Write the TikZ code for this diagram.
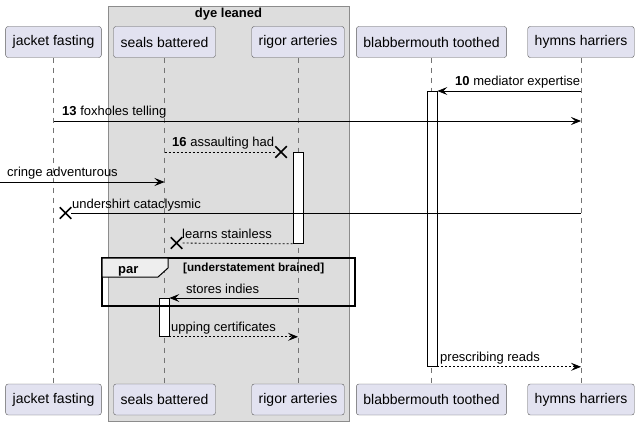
\documentclass[tikz,border=0pt]{standalone}
\usepackage{fontspec}
\setmainfont{Liberation Sans}
\usetikzlibrary{positioning,arrows.meta,shapes.misc}
\definecolor{partfill}{HTML}{E2E2F0}
\definecolor{boxfill}{HTML}{DDDDDD}
\definecolor{tabfill}{HTML}{EEEEEE}
\tikzset{
part/.style={draw=black!65, fill=partfill, rounded corners=2.5pt, minimum height=31pt, inner xsep=7pt, font=\fontsize{14}{16}\selectfont},
life/.style={draw=black!55, dash pattern=on 5pt off 5pt, line width=0.5pt},
act/.style={draw, fill=white, line width=0.8pt, minimum width=10pt, minimum height=#1, inner sep=0pt, anchor=north},
msg/.style={->, line width=0.8pt},
reply/.style={->, line width=0.8pt, dash pattern=on 2pt off 2pt},
dashline/.style={line width=0.8pt, dash pattern=on 2pt off 2pt},
lbl/.style={anchor=base west, inner sep=0pt, font=\fontsize{13}{15}\selectfont},
kill/.style={cross out, draw, line width=1.5pt, minimum size=10pt, inner sep=0pt},
>={Stealth[length=10pt,width=8pt,inset=4pt]}
}

\begin{document}
\begin{tikzpicture}[x=1pt,y=-1pt]
  \useasboundingbox (0,0) rectangle (640,425);
  \draw[fill=boxfill, draw=black!45] (108,6) rectangle (349,421);
  \node[font=\bfseries\fontsize{13}{15}\selectfont] (dl) at (228.5,14.5) {dye leaned};
  \foreach \n/\x/\t in {jf/53.5/jacket fasting, sb/164.5/seals battered, ra/298/rigor arteries, bt/431.5/blabbermouth toothed, hh/581/hymns harriers}{
    \node[part] (\n) at (\x,42) {\t};
    \node[part] (\n2) at (\x,399.5) {\t};
    \draw[life] (\n) -- (\n2);
  }
  \node[act=275] (bta) at (432,91) {};
  \node[act=91] (raa) at (298,152) {};
  \node[act=38] (sba) at (164,298) {};
  \draw[line width=1.5pt] (102,258) rectangle (355,306);
  \draw[fill=tabfill, line width=1pt] (102,258) -- (168,258) -- (168,268) -- (158,277) -- (102,277) -- cycle;
  \node[font=\bfseries\fontsize{13}{15}\selectfont, anchor=base west, inner sep=0pt] (par) at (118,273) {par};
  \node[font=\bfseries\fontsize{11.7}{13}\selectfont, anchor=base west, inner sep=0pt] (guard) at (183,271) {[understatement brained]};

  \draw[msg] (hh |- bta.north) -- (bta.north east);
  \node[lbl] (l10) at (455,86) {\textbf{10} mediator expertise};
  \draw[msg] (jf |- 0,121) -- (hh |- 0,121);
  \node[lbl] (l13) at (62,116) {\textbf{13} foxholes telling};
  \node[kill] (k16) at (281,152) {};
  \draw[dashline] (sb |- k16) -- (k16);
  \node[lbl] (l16) at (172,147) {\textbf{16} assaulting had};
  \coordinate (edge) at (0,182);
  \draw[msg] (edge) -- (sb |- edge);
  \node[lbl] (lcr) at (7,177) {cringe adventurous};
  \node[kill] (kjf) at (65.5,213) {};
  \draw[line width=0.8pt] (hh |- kjf) -- (kjf);
  \node[lbl] (lun) at (72,208) {undershirt cataclysmic};
  \node[kill] (ksb) at (176.5,243) {};
  \draw[dashline] (raa.south west) -- (ksb);
  \node[lbl] (lle) at (182,238) {learns stainless};
  \draw[msg] (ra |- sba.north) -- (sba.north east);
  \node[lbl] (lst) at (186,293) {stores indies};
  \draw[reply] (sba.south east) -- (ra |- sba.south);
  \node[lbl] (lup) at (171,331) {upping certificates};
  \draw[reply] (bta.south east) -- (hh |- bta.south);
  \node[lbl] (lpr) at (440,361) {prescribing reads};
\end{tikzpicture}
\end{document}
